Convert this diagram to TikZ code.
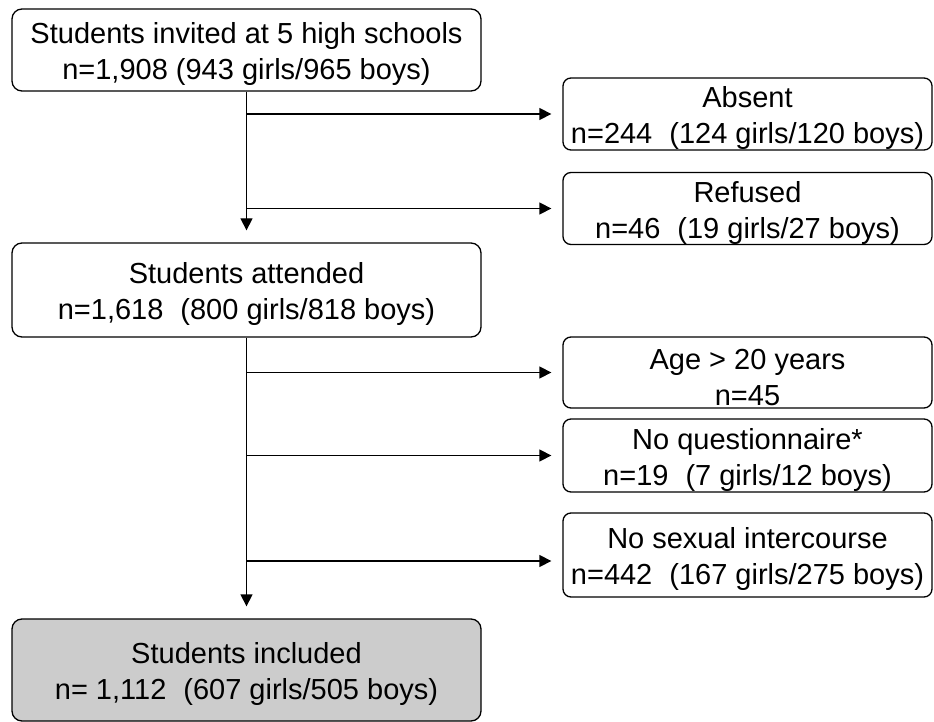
\documentclass[tikz,border=0pt]{standalone}
\usepackage{fontspec}
\setmainfont{Liberation Sans}
\usetikzlibrary{arrows.meta}
\newcommand{\gap}{\hspace{17pt}}
\newcommand{\tp}{\rule{0pt}{30pt}}
\tikzset{
	box/.style={draw=black,line width=1.3pt,rounded corners=10pt,align=center,inner sep=0pt,minimum width=469pt,
		font=\fontsize{29}{36}\selectfont},
	exbox/.style={box,rounded corners=8pt,minimum width=369pt},
	incl/.style={box,fill=black!20},
	flow/.style={line width=1.3pt,-{Triangle[length=12pt,width=12pt]}},
}
\begin{document}
\begin{tikzpicture}[x=1pt,y=-1pt]
\useasboundingbox (0,0) rectangle (934,722);

\node (inv) at (246.5,50) [box,minimum height=82pt] {\tp Students invited at 5 high schools\\n=1,908 (943 girls/965 boys)};
\node (att) at (246.5,290) [box,minimum height=94pt] {\tp Students attended\\n=1,618\gap(800 girls/818 boys)};
\node (inc) at (246.5,670) [incl,minimum height=102pt] {\tp Students included\\n= 1,112\gap(607 girls/505 boys)};

\node (abs) at (747.5,114) [exbox,minimum height=70pt] {\tp Absent\\n=244\gap(124 girls/120 boys)};
\node (ref) at (747.5,208.5) [exbox,minimum height=69pt] {\tp Refused\\n=46\gap(19 girls/27 boys)};
\node (age) at (747.5,372.5) [exbox,minimum height=71pt] {\tp Age > 20 years\\n=45};
\node (noq) at (747.5,455.5) [exbox,minimum height=73pt] {\tp No questionnaire*\\n=19\gap(7 girls/12 boys)};
\node (nos) at (747.5,555) [exbox,minimum height=84pt] {\tp No sexual intercourse\\n=442\gap(167 girls/275 boys)};

% main flow
\draw[flow,shorten >=12pt] (inv) -- (att);
\draw[flow,shorten >=12pt] (att) -- (inc);

% exclusions
\draw[flow,shorten >=11pt] (inv.south |- abs.west) -- (abs.west);
\draw[flow,shorten >=11pt] (inv.south |- ref.west) -- (ref.west);
\draw[flow,shorten >=11pt] (att.south |- age.west) -- (age.west);
\draw[flow,shorten >=11pt] (att.south |- noq.west) -- (noq.west);
\coordinate (j5) at (246.5,561);
\draw[flow,shorten >=11pt] (j5) -- (j5 -| nos.west);
\end{tikzpicture}
\end{document}
